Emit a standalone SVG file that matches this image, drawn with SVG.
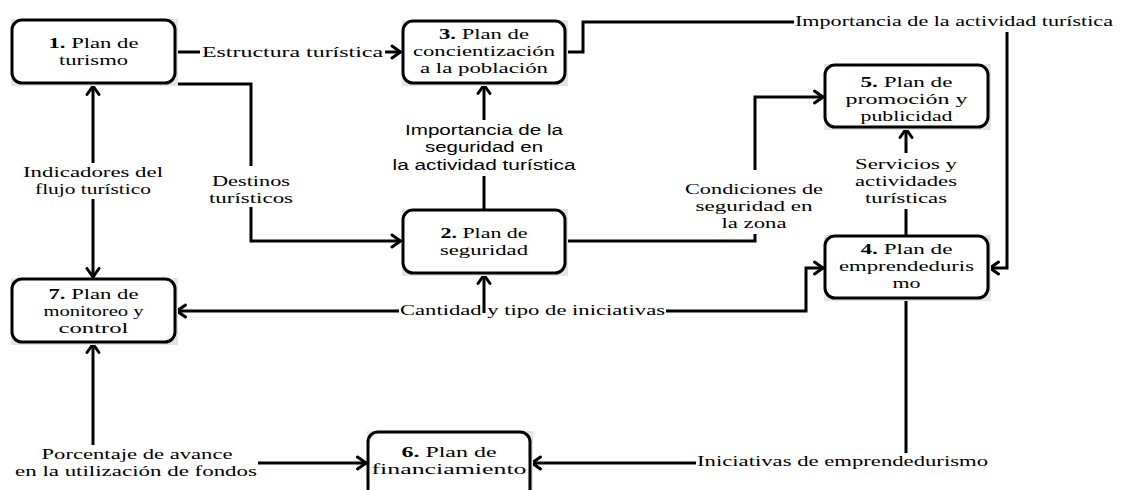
<svg xmlns="http://www.w3.org/2000/svg" width="1125" height="490" viewBox="0 0 1125 490">
<defs>
<style>
.sh{fill:#e4e4e4;stroke:none}
.n{fill:#fff;stroke:#000;stroke-width:3}
.c{fill:none;stroke:#000;stroke-width:3;stroke-linejoin:miter}
.a{marker-end:url(#ar)}
text{font-family:"Liberation Serif","Times New Roman",serif;font-size:15px;fill:#000}
.m{text-anchor:middle}
.s{font-family:"Liberation Sans",Arial,sans-serif;font-size:14px}
.b{font-weight:bold}
</style>
<marker id="ar" viewBox="0 0 12 16" refX="11" refY="8" markerWidth="12" markerHeight="16" orient="auto" markerUnits="userSpaceOnUse">
<path d="M2,2 L10.5,8 L2,14" fill="none" stroke="#000" stroke-width="3" stroke-linecap="round"/>
</marker>
</defs>
<rect width="1125" height="490" fill="#fff"/>
<g id="connectors">
<path class="c" d="M175,52 H200"/>
<path class="c a" d="M385,52 H401"/>
<path class="c" d="M175,84 H251 V166"/>
<path class="c a" d="M251,207 V241 H401"/>
<path class="c a" d="M93,163 V85.5"/>
<path class="c a" d="M93,199 V277.5"/>
<path class="c" d="M484,209 V176"/>
<path class="c a" d="M484,120 V84.5"/>
<path class="c a" d="M484,313 V274.5"/>
<path class="c a" d="M399,311 H176.5"/>
<path class="c a" d="M666,311 H806 V268 H823.5"/>
<path class="c" d="M565,241 H755 V234"/>
<path class="c a" d="M755,170 V97 H823.5"/>
<path class="c" d="M565,52 H583 V22 H794"/>
<path class="c a" d="M1007,32 V268 H989.5"/>
<path class="c" d="M906,236 V209"/>
<path class="c a" d="M906,153 V128.5"/>
<path class="c" d="M906,298 V453"/>
<path class="c a" d="M696,463 H531.5"/>
<path class="c a" d="M93,445 V343.5"/>
<path class="c a" d="M258,463 H366.5"/>
<text x="202" y="57" textLength="181" lengthAdjust="spacingAndGlyphs">Estructura turística</text>
<text x="795" y="26" textLength="318" lengthAdjust="spacingAndGlyphs">Importancia de la actividad turística</text>
<text class="m"><tspan x="93" y="177" textLength="140" lengthAdjust="spacingAndGlyphs">Indicadores del</tspan><tspan x="93" y="194" textLength="116" lengthAdjust="spacingAndGlyphs">flujo turístico</tspan></text>
<text class="m"><tspan x="251" y="186" textLength="78" lengthAdjust="spacingAndGlyphs">Destinos</tspan><tspan x="251" y="203" textLength="84" lengthAdjust="spacingAndGlyphs">turísticos</tspan></text>
<text class="m s"><tspan x="484" y="135" textLength="158" lengthAdjust="spacingAndGlyphs">Importancia de la</tspan><tspan x="484" y="152" textLength="118" lengthAdjust="spacingAndGlyphs">seguridad en</tspan><tspan x="484" y="170" textLength="183" lengthAdjust="spacingAndGlyphs">la actividad turística</tspan></text>
<text class="m"><tspan x="754" y="194" textLength="138" lengthAdjust="spacingAndGlyphs">Condiciones de</tspan><tspan x="754" y="211" textLength="117" lengthAdjust="spacingAndGlyphs">seguridad en</tspan><tspan x="754" y="228" textLength="65" lengthAdjust="spacingAndGlyphs">la zona</tspan></text>
<text class="m"><tspan x="906" y="169" textLength="102" lengthAdjust="spacingAndGlyphs">Servicios y</tspan><tspan x="906" y="186" textLength="102" lengthAdjust="spacingAndGlyphs">actividades</tspan><tspan x="906" y="203" textLength="82" lengthAdjust="spacingAndGlyphs">turísticas</tspan></text>
<text x="400" y="315" textLength="265" lengthAdjust="spacingAndGlyphs">Cantidad y tipo de iniciativas</text>
<text x="697" y="466" textLength="291" lengthAdjust="spacingAndGlyphs">Iniciativas de emprendedurismo</text>
<text class="m"><tspan x="137" y="459" textLength="191" lengthAdjust="spacingAndGlyphs">Porcentaje de avance</tspan><tspan x="136" y="476" textLength="242" lengthAdjust="spacingAndGlyphs">en la utilización de fondos</tspan></text>
</g>
<g id="node1">
<rect class="sh" x="11" y="19" width="167" height="67"/>
<rect class="n" x="12" y="20" width="163" height="63" rx="10"/>
<text class="m"><tspan x="93.5" y="48" textLength="90" lengthAdjust="spacingAndGlyphs"><tspan class="b">1.</tspan> Plan de</tspan><tspan x="93.5" y="65" textLength="69" lengthAdjust="spacingAndGlyphs">turismo</tspan></text>
</g>
<g id="node3">
<rect class="sh" x="402" y="20" width="166" height="66"/>
<rect class="n" x="403" y="21" width="162" height="62" rx="10"/>
<text class="m"><tspan x="484" y="39" textLength="90" lengthAdjust="spacingAndGlyphs"><tspan class="b">3.</tspan> Plan de</tspan><tspan x="484" y="56" textLength="142" lengthAdjust="spacingAndGlyphs">concientización</tspan><tspan x="484" y="73" textLength="128" lengthAdjust="spacingAndGlyphs">a la población</tspan></text>
</g>
<g id="node5">
<rect class="sh" x="824" y="64" width="167" height="66"/>
<rect class="n" x="825" y="65" width="163" height="62" rx="10"/>
<text class="m"><tspan x="906.5" y="87" textLength="92" lengthAdjust="spacingAndGlyphs"><tspan class="b">5.</tspan> Plan de</tspan><tspan x="906.5" y="104" textLength="122" lengthAdjust="spacingAndGlyphs">promoción y</tspan><tspan x="906.5" y="121" textLength="92" lengthAdjust="spacingAndGlyphs">publicidad</tspan></text>
</g>
<g id="node2">
<rect class="sh" x="402" y="209" width="166" height="67"/>
<rect class="n" x="403" y="210" width="162" height="63" rx="10"/>
<text class="m"><tspan x="484" y="238" textLength="87" lengthAdjust="spacingAndGlyphs"><tspan class="b">2.</tspan> Plan de</tspan><tspan x="484" y="255" textLength="88" lengthAdjust="spacingAndGlyphs">seguridad</tspan></text>
</g>
<g id="node4">
<rect class="sh" x="824" y="235" width="167" height="66"/>
<rect class="n" x="825" y="236" width="163" height="62" rx="10"/>
<text class="m"><tspan x="906.5" y="254" textLength="92" lengthAdjust="spacingAndGlyphs"><tspan class="b">4.</tspan> Plan de</tspan><tspan x="906.5" y="271" textLength="135" lengthAdjust="spacingAndGlyphs">emprendeduris</tspan><tspan x="906.5" y="288" textLength="28" lengthAdjust="spacingAndGlyphs">mo</tspan></text>
</g>
<g id="node7">
<rect class="sh" x="11" y="278" width="167" height="67"/>
<rect class="n" x="12" y="279" width="163" height="63" rx="10"/>
<text class="m"><tspan x="93.5" y="299" textLength="90" lengthAdjust="spacingAndGlyphs"><tspan class="b">7.</tspan> Plan de</tspan><tspan x="93.5" y="316" textLength="100" lengthAdjust="spacingAndGlyphs">monitoreo y</tspan><tspan x="93.5" y="333" textLength="70" lengthAdjust="spacingAndGlyphs">control</tspan></text>
</g>
<g id="node6">
<rect class="sh" x="367" y="431" width="166" height="72"/>
<rect class="n" x="368" y="432" width="162" height="70" rx="10"/>
<text class="m"><tspan x="449" y="457" textLength="95" lengthAdjust="spacingAndGlyphs"><tspan class="b">6.</tspan> Plan de</tspan><tspan x="449" y="474" textLength="155" lengthAdjust="spacingAndGlyphs">financiamiento</tspan></text>
</g>
</svg>
